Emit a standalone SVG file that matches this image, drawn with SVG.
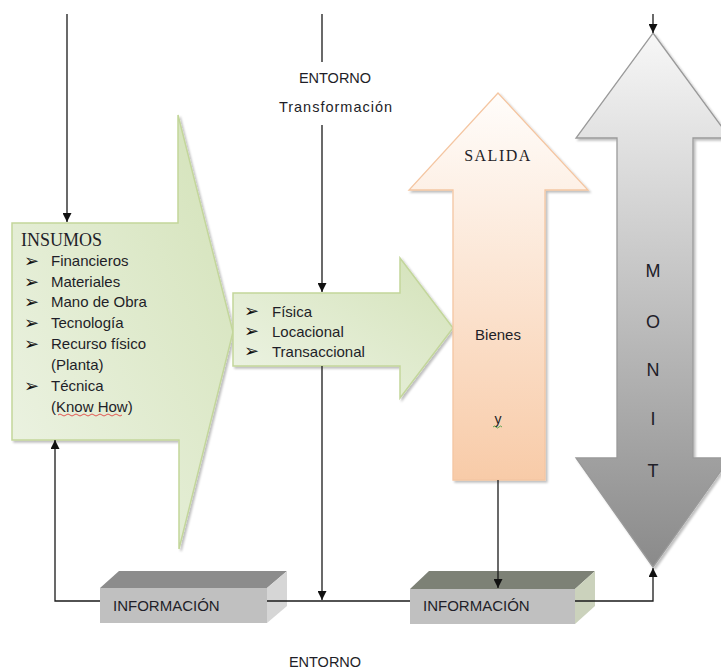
<svg xmlns="http://www.w3.org/2000/svg" width="721" height="669" viewBox="0 0 721 669">
  <style>
    .sans { font-family: "Liberation Sans", Arial, sans-serif; fill: #1e1e28; }
    .serif { font-family: "Liberation Serif", "Times New Roman", serif; fill: #1e1e28; }
    .bul { font-family: "DejaVu Sans", sans-serif; font-size: 18px; font-weight: bold; fill: #111; }
    .item { font-size: 15px; }
    .letter { font-size: 18px; text-anchor: middle; fill: #202028; }
    .link { fill: none; stroke: #1a1a1a; stroke-width: 1.3; }
    .green { fill: url(#gGreen); stroke: #c3d69b; stroke-width: 1.5; filter: url(#shadow); }
  </style>
  <defs>
    <linearGradient id="gGreen" x1="0" y1="1" x2="1" y2="0">
      <stop offset="0" stop-color="#eef4e6"/>
      <stop offset="1" stop-color="#d3e2b8"/>
    </linearGradient>
    <linearGradient id="gPeach" x1="0" y1="0" x2="0" y2="1">
      <stop offset="0" stop-color="#fffdfb"/>
      <stop offset="1" stop-color="#f8cba8"/>
    </linearGradient>
    <linearGradient id="gGray" x1="0" y1="0" x2="0" y2="1">
      <stop offset="0" stop-color="#f7f7f7"/>
      <stop offset="1" stop-color="#8a8a8a"/>
    </linearGradient>
    <filter id="shadow" x="-10%" y="-10%" width="130%" height="130%">
      <feDropShadow dx="2" dy="2" stdDeviation="1.2" flood-color="#000" flood-opacity="0.25"/>
    </filter>
    <marker id="arr" viewBox="0 0 10 10" refX="10" refY="5" markerWidth="9" markerHeight="9" markerUnits="userSpaceOnUse" orient="auto">
      <path d="M0,0 L10,5 L0,10 Z" fill="#111"/>
    </marker>
  </defs>

  <!-- INSUMOS block arrow -->
  <g id="insumos">
    <path class="green" d="M12,223 L178,223 L178,115 L233,332 L179,549 L179,440 L12,440 Z"/>
    <text class="serif" x="21" y="246" font-size="18">INSUMOS</text>
    <g class="bul">
      <text x="24" y="267">➢</text>
      <text x="24" y="288">➢</text>
      <text x="24" y="308">➢</text>
      <text x="24" y="329">➢</text>
      <text x="24" y="350">➢</text>
      <text x="24" y="392">➢</text>
    </g>
    <g class="sans item">
      <text x="51" y="266">Financieros</text>
      <text x="51" y="287">Materiales</text>
      <text x="51" y="307">Mano de Obra</text>
      <text x="51" y="328">Tecnología</text>
      <text x="51" y="349">Recurso físico</text>
      <text x="51" y="370">(Planta)</text>
      <text x="51" y="391">Técnica</text>
      <text x="51" y="412">(Know How)</text>
    </g>
    <path d="M58,415 q2,-2 4,0 t4,0 t4,0 t4,0 t4,0 t4,0 t4,0 t4,0 t4,0 t4,0 t4,0 t4,0 t4,0 t4,0 t4,0 t4,0" fill="none" stroke="#e03030" stroke-width="0.8"/>
  </g>

  <!-- Transformation block arrow -->
  <g id="transformacion">
    <path class="green" d="M233,293 L400,293 L400,258 L453,328 L400,398 L400,366 L233,366 Z"/>
    <g class="bul">
      <text x="244" y="317">➢</text>
      <text x="244" y="337">➢</text>
      <text x="244" y="357">➢</text>
    </g>
    <g class="sans item">
      <text x="272" y="317">Física</text>
      <text x="272" y="337">Locacional</text>
      <text x="272" y="357">Transaccional</text>
    </g>
  </g>

  <!-- SALIDA arrow -->
  <g id="salida">
    <path d="M498,93 L588,190 L545,190 L545,480 L453,480 L453,190 L409,190 Z" fill="url(#gPeach)" stroke="#f4c6a2" stroke-width="1.3" filter="url(#shadow)"/>
    <text class="serif" x="498" y="161" font-size="16" letter-spacing="1.5" text-anchor="middle">SALIDA</text>
    <text class="sans item" x="498" y="340" text-anchor="middle">Bienes</text>
    <text class="sans" x="498" y="424" font-size="14" text-anchor="middle">y</text>
    <path d="M493,427 q1.5,-2 3,0 t3,0 t3,0" fill="none" stroke="#3a9a3a" stroke-width="0.8"/>
  </g>

  <!-- MONIT double arrow -->
  <g id="monit">
    <path d="M653,33 L730,138 L693,138 L693,458 L730,458 L653,567 L576,458 L617,458 L617,138 L576,138 Z" fill="url(#gGray)" stroke="#9a9a9a" stroke-width="1.3" filter="url(#shadow)"/>
    <g class="sans">
      <text class="letter" x="653" y="277">M</text>
      <text class="letter" x="653" y="328">O</text>
      <text class="letter" x="653" y="376">N</text>
      <text class="letter" x="653" y="425">I</text>
      <text class="letter" x="653" y="477">T</text>
    </g>
  </g>

  <!-- Information boxes -->
  <g id="info1">
    <polygon points="100,588 119,571 287,571 267,588" fill="#8c8c8c"/>
    <polygon points="267,588 287,571 287,606 267,623" fill="#d6d6d6"/>
    <rect x="100" y="588" width="167" height="35" fill="#c0c0c0"/>
    <text class="sans item" x="113" y="611">INFORMACIÓN</text>
  </g>
  <g id="info2">
    <polygon points="410,589 429,571 595,571 575,589" fill="#7d8176"/>
    <polygon points="575,589 595,571 595,606 575,624" fill="#cbd2bc"/>
    <rect x="410" y="589" width="165" height="35" fill="#c0c0c0"/>
    <text class="sans item" x="423" y="611">INFORMACIÓN</text>
  </g>

  <!-- Environment labels -->
  <g id="entorno">
    <text class="sans" x="335" y="83" font-size="14.5" text-anchor="middle">ENTORNO</text>
    <text class="sans" x="336" y="112" font-size="14.5" letter-spacing="1" text-anchor="middle">Transformación</text>
    <text class="sans" x="325" y="667" font-size="14.5" text-anchor="middle">ENTORNO</text>
  </g>

  <!-- Connectors -->
  <g id="connectors">
    <path class="link" d="M67,14 L67,222" marker-end="url(#arr)"/>
    <path class="link" d="M322,14 L322,62"/>
    <path class="link" d="M322,125 L322,292" marker-end="url(#arr)"/>
    <path class="link" d="M322,366 L322,600" marker-end="url(#arr)"/>
    <path class="link" d="M100,601 L55,601 L55,440" marker-end="url(#arr)"/>
    <path class="link" d="M267,601 L410,601"/>
    <path class="link" d="M498,480 L498,588" marker-end="url(#arr)"/>
    <path class="link" d="M575,601 L653,601 L653,568" marker-end="url(#arr)"/>
    <path class="link" d="M653,14 L653,33" marker-end="url(#arr)"/>
  </g>
</svg>
